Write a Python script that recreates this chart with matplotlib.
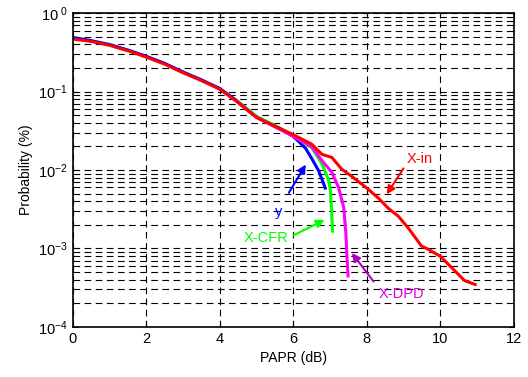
import numpy as np
import matplotlib.pyplot as plt
from matplotlib.ticker import LogLocator, FixedLocator

plt.rcParams['font.family'] = ['Liberation Sans', 'DejaVu Sans']
plt.rcParams['mathtext.fontset'] = 'custom'
plt.rcParams['mathtext.rm'] = 'Liberation Sans'
plt.rcParams['mathtext.it'] = 'Liberation Sans'
plt.rcParams['mathtext.default'] = 'regular'

# PAPR CCDF curves (x in dB, log10 of probability)
x_in = [0, 0.5, 1, 1.5, 2, 2.5, 3, 3.5, 4, 4.5, 5, 5.5, 6, 6.5, 6.78, 7.05, 7.32, 7.59, 8.0,
        8.32, 8.59, 8.86, 9.13, 9.49, 9.67, 10.0, 10.3, 10.66, 10.95]
logp_in = [-0.33, -0.36, -0.41, -0.48, -0.56, -0.65, -0.76, -0.86, -0.97, -1.14, -1.33, -1.44,
           -1.55, -1.67, -1.80, -1.84, -1.99, -2.08, -2.23, -2.36, -2.49, -2.59, -2.74, -2.97,
           -3.01, -3.10, -3.24, -3.41, -3.46]

x_y = [0, 0.5, 1, 1.5, 2, 2.5, 3, 3.5, 4, 4.5, 5, 5.5, 6.0, 6.33, 6.51, 6.69, 6.87]
logp_y = [-0.31, -0.35, -0.40, -0.47, -0.55, -0.64, -0.75, -0.85, -0.96, -1.13, -1.32, -1.44,
          -1.57, -1.72, -1.86, -2.01, -2.23]

x_cfr = [4.5, 5, 5.5, 6.0, 6.51, 6.78, 6.96, 7.01, 7.04, 7.07]
logp_cfr = [-1.13, -1.32, -1.43, -1.56, -1.72, -1.92, -2.13, -2.26, -2.51, -2.78]

x_dpd = [4.5, 5, 5.5, 6.0, 6.5, 6.78, 7.05, 7.23, 7.37, 7.43, 7.46, 7.49]
logp_dpd = [-1.14, -1.33, -1.45, -1.57, -1.70, -1.88, -2.03, -2.22, -2.47, -2.80, -3.10, -3.35]

fig = plt.figure(figsize=(5.28, 3.77), dpi=100)
ax = fig.add_axes([0.138, 0.133, 0.835, 0.832])

ax.plot(x_y, 10 ** np.array(logp_y), color='#0000ff', lw=2.2)
ax.plot(x_cfr, 10 ** np.array(logp_cfr), color='#00ff00', lw=2.2)
ax.plot(x_dpd, 10 ** np.array(logp_dpd), color='#ff00ff', lw=2.2)
ax.plot(x_in, 10 ** np.array(logp_in), color='#ff0000', lw=2.2)

ax.set_yscale('log')
ax.set_xlim(0, 12)
ax.set_ylim(1e-4, 1)
ax.xaxis.set_major_locator(FixedLocator([0, 2, 4, 6, 8, 10, 12]))
ax.yaxis.set_minor_locator(LogLocator(base=10, subs=np.arange(2, 10), numticks=20))
ax.yaxis.set_minor_formatter(plt.NullFormatter())
ax.set_yticks([1e-4, 1e-3, 1e-2, 1e-1, 1])
ax.set_yticklabels([r'$10^{-4}$', r'$10^{-3}$', r'$10^{-2}$', r'$10^{-1}$', r'$10^{\ 0}$'])

ax.grid(True, which='major', color='k', ls=(0, (6, 4)), lw=0.8)
ax.grid(True, which='minor', axis='y', color='k', ls=(0, (6, 4)), lw=0.8)
ax.tick_params(which='both', direction='in', top=True, right=True, labelsize=10.5)
for s in ax.spines.values():
    s.set_linewidth(1.2)

ax.set_xlabel('PAPR (dB)', fontsize=10)
ax.set_ylabel('Probability (%)', fontsize=10)

def note(xy, xytext, acolor):
    ax.annotate('', xy=(xy[0], 10 ** xy[1]), xytext=(xytext[0], 10 ** xytext[1]),
                arrowprops=dict(arrowstyle='-|>', color=acolor, lw=1.5, mutation_scale=12))

note((8.50, -2.34), (9.04, -1.95), '#ff0000')
ax.text(9.44, 10 ** -1.86, 'X-in', color='#ff0000', fontsize=10.5, ha='center', va='center')
note((6.38, -1.90), (5.84, -2.32), '#0000ff')
ax.text(5.61, 10 ** -2.53, 'y', color='#0000ff', fontsize=10.5, ha='center', va='center')
note((6.92, -2.62), (5.93, -2.85), '#00ff00')
ax.text(5.25, 10 ** -2.87, 'X-CFR', color='#00ff00', fontsize=10.5, ha='center', va='center')
note((7.55, -3.03), (8.23, -3.45), '#b000c0')
ax.text(8.95, 10 ** -3.58, 'X-DPD', color='#e000e0', fontsize=10.5, ha='center', va='center')

fig.savefig('out.png', dpi=100)
